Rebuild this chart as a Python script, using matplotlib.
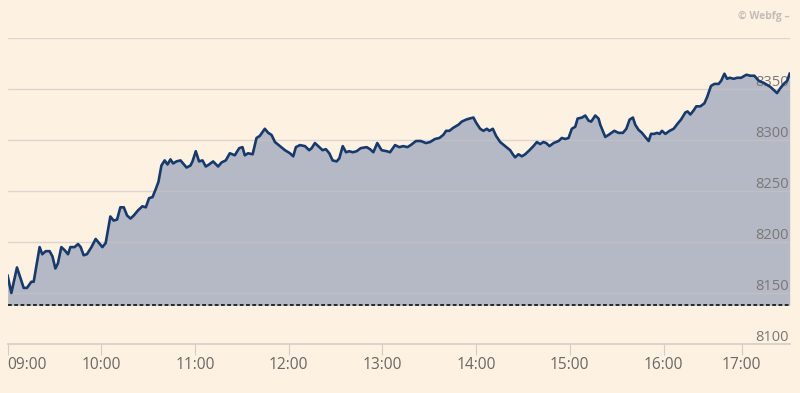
import matplotlib.pyplot as plt

# minutes after 09:00 (chart position) and index level
t = [0, 2.4, 6, 10.3, 12.4, 15.2, 16.7, 20.5, 22.2, 24.4, 26.9, 28.7, 30.6, 32.2,
     34.4, 36.5, 38.7, 40.2, 42.9, 45.1, 46.8, 48.7, 50.8, 53.7, 56.4, 58.5, 60.7,
     62.8, 65.8, 67.9, 70.1, 72.2, 74.4, 76.5, 78.7, 80.8, 83.5, 86.3, 88.5, 90.6,
     92.8, 94.9, 96.6, 98.5, 100.6, 102.4, 104.3, 106, 108.1, 110.7, 114.6, 117.1,
     118.4, 120.5, 122.6, 124.8, 126.9, 129, 131.6, 134.8, 137, 139.7, 142.3, 145.5,
     148.3, 150.4, 151.9, 154, 156.9, 159.4, 161.5, 164.7, 166.9, 169, 171.2, 174.4,
     177.6, 180.8, 182.9, 184.6, 187.2, 190.4, 193.1, 194.7, 196.8, 198.9, 201.7,
     203.8, 206, 208.1, 210.7, 212.4, 214.6, 216.7, 218.8, 221, 223.5, 226.1, 229.9,
     232.1, 234.2, 236.7, 239.5, 242.8, 244.9, 248.1, 250.8, 253.4, 256, 258.1,
     261.5, 264.6, 267.9, 270.5, 273.7, 276.5, 279, 280.8, 282.9, 285.4, 288.7,
     290.8, 293.6, 295.7, 298.3, 300, 302.6, 304.7, 306.9, 308.5, 310.7, 312.8,
     315.4, 318.6, 321.8, 323.5, 325, 327.1, 329.3, 331.4, 334.2, 336.7, 338.9, 341,
     343.1, 344.9, 347, 349.6, 352.8, 354.9, 357.1, 359.2, 361.3, 363.5, 365, 367.8,
     369.9, 372, 373.7, 376.3, 378.4, 379.5, 382.7, 384.8, 388.5, 391.2, 394, 396.2,
     398.3, 400.4, 401.9, 404, 406.2, 408.3, 410.5, 412, 414.1, 415.8, 417.5, 419,
     421.2, 423.9, 426.5, 429, 431.2, 434, 435.4, 437.2, 439.3, 441, 443.6, 446.2,
     447.9, 450.4, 452.6, 455.3, 456.9, 459, 460.7, 462.4, 465, 467.1, 469.7, 473.1,
     475.6, 478.2, 481, 484.2, 488.5, 492.7, 494.9, 497, 499.2, 500.8]
level = [8167, 8150, 8175, 8155, 8155, 8161, 8161, 8195, 8188, 8191, 8191, 8186, 8174,
         8179, 8195, 8192, 8188, 8195, 8195, 8198, 8195, 8187, 8188, 8195, 8203, 8199,
         8195, 8199, 8225, 8221, 8222, 8234, 8234, 8226, 8223, 8226, 8231, 8235, 8234,
         8243, 8244, 8252, 8259, 8275, 8280, 8276, 8281, 8277, 8279, 8280, 8273, 8275,
         8279, 8289, 8279, 8280, 8274, 8276, 8279, 8274, 8278, 8280, 8287, 8285, 8292,
         8293, 8285, 8287, 8286, 8302, 8304, 8311, 8307, 8305, 8298, 8294, 8290, 8287,
         8284, 8293, 8295, 8294, 8290, 8292, 8297, 8294, 8290, 8291, 8287, 8280, 8279,
         8282, 8294, 8288, 8289, 8288, 8289, 8292, 8293, 8291, 8288, 8297, 8290, 8289,
         8288, 8295, 8293, 8294, 8293, 8295, 8299, 8299, 8297, 8298, 8301, 8302, 8305,
         8309, 8309, 8312, 8315, 8318, 8320, 8321, 8322, 8317, 8311, 8309, 8311, 8309,
         8311, 8304, 8298, 8294, 8290, 8286, 8283, 8286, 8284, 8286, 8290, 8294, 8298,
         8296, 8298, 8297, 8294, 8297, 8299, 8302, 8301, 8302, 8311, 8313, 8321, 8322,
         8324, 8319, 8318, 8324, 8321, 8315, 8303, 8305, 8309, 8307, 8307, 8311, 8320,
         8322, 8315, 8310, 8307, 8303, 8299, 8306, 8306, 8307, 8306, 8309, 8306, 8309,
         8311, 8316, 8320, 8327, 8328, 8325, 8329, 8333, 8333, 8336, 8342, 8353, 8355,
         8355, 8358, 8365, 8360, 8361, 8360, 8361, 8361, 8364, 8363, 8363, 8358, 8356,
         8352, 8346, 8351, 8355, 8358, 8365]

prev_close = 8138
tick_pos = [0, 60, 120, 180, 240, 300, 360, 420, 470]
tick_lbl = ['09:00', '10:00', '11:00', '12:00', '13:00', '14:00', '15:00', '16:00', '17:00']
y_ticks = [8100, 8150, 8200, 8250, 8300, 8350]
grid_vals = [8150, 8200, 8250, 8300, 8350, 8400]

bg = '#fdf1e2'
plt.rcParams['font.family'] = ['Open Sans', 'DejaVu Sans']

fig = plt.figure(figsize=(8, 3.93), dpi=100, facecolor=bg)
ax = fig.add_axes([0.0095, 0.1247, 0.978, 0.7786])
ax.set_facecolor(bg)
ax.set_xlim(0, 501)
ax.set_ylim(8100, 8400)

ax.fill_between(t, level, prev_close, color='#b5b9c6', lw=0, zorder=1)
for g in grid_vals:
    ax.axhline(g, color='#c9c5c3', alpha=0.6, lw=1, zorder=1.5)

for v in y_ticks:
    ax.annotate(str(v), xy=(1.0, v), xycoords=ax.get_yaxis_transform(),
                xytext=(-1, 2.5), textcoords='offset points',
                ha='right', va='baseline', fontsize=10.5, color='#7a7775', zorder=2)

ax.plot(t, level, color='#173a6d', lw=1.9, solid_joinstyle='round', zorder=3)
ax.axhline(prev_close, color='black', lw=1.1, ls=(0, (2.5, 1.6)), zorder=4)

for s in ['top', 'right', 'left']:
    ax.spines[s].set_visible(False)
ax.spines['bottom'].set_color('#d2cdc8')
ax.spines['bottom'].set_linewidth(1.2)
ax.set_yticks([])
ax.set_xticks(tick_pos)
ax.set_xticklabels(tick_lbl)
ax.tick_params(axis='x', length=8, width=0.8, color='#d2cdc8', pad=1.5,
               labelsize=11.2, labelcolor='#6b6866')
ax.get_xticklabels()[0].set_ha('left')

fig.text(0.9875, 0.958, '\u00a9 Webfg \u2013', ha='right', va='center',
         fontsize=7.5, fontweight='bold', color='#c3bdb6')

fig.savefig('out.png', dpi=100, facecolor=bg)
